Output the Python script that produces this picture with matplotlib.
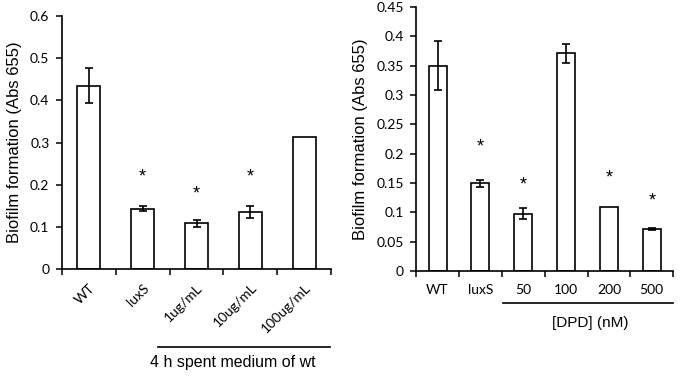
import matplotlib
matplotlib.use("Agg")
import matplotlib.pyplot as plt

# left panel: spent medium
left_cats = ["WT", "luxS", "1ug/mL", "10ug/mL", "100ug/mL"]
left_vals = [0.435, 0.143, 0.108, 0.135, 0.313]
left_err = [0.041, 0.006, 0.009, 0.015, 0.0]
left_star = [None, 0.218, 0.179, 0.218, None]

# right panel: DPD
right_cats = ["WT", "luxS", "50", "100", "200", "500"]
right_vals = [0.350, 0.150, 0.098, 0.371, 0.110, 0.072]
right_err = [0.042, 0.006, 0.009, 0.016, 0.0, 0.002]
right_star = [None, 0.211, 0.147, None, 0.159, 0.120]

tick_font = "Lato"
label_font = "Liberation Sans"

fig = plt.figure(figsize=(6.8, 3.77), dpi=100)
ax1 = fig.add_axes([0.091, 0.2865, 0.396, 0.671])
ax2 = fig.add_axes([0.612, 0.281, 0.378, 0.700])


def draw(ax, cats, vals, err, stars, ymax, ystep):
    n = len(cats)
    xs = list(range(n))
    ax.bar(xs, vals, width=0.42, color="white", edgecolor="black", linewidth=1.2, zorder=2)
    for x, v, e in zip(xs, vals, err):
        if e > 0:
            ax.errorbar(x, v, yerr=e, color="black", capsize=3, elinewidth=1.2,
                        capthick=1.2, zorder=3)
    for x, s in zip(xs, stars):
        if s is not None:
            ax.text(x, s, "*", ha="center", va="center", fontsize=13, family=label_font)
    ax.set_xlim(-0.5, n - 0.5)
    ax.set_ylim(0, ymax)
    ticks = [round(i * ystep, 3) for i in range(int(round(ymax / ystep)) + 1)]
    ax.set_yticks(ticks)
    ax.set_yticklabels([("%g" % t) for t in ticks], family=tick_font, fontsize=10)
    ax.set_xticks(xs)
    ax.set_xticks([i - 0.5 for i in range(n + 1)], minor=True)
    ax.tick_params(axis="x", which="major", length=0, pad=9)
    ax.tick_params(axis="x", which="minor", length=4, width=1.1, direction="out")
    ax.tick_params(axis="y", length=4, width=1.1, direction="out", pad=5)
    for side in ["top", "right"]:
        ax.spines[side].set_visible(False)
    for side in ["left", "bottom"]:
        ax.spines[side].set_linewidth(1.2)
    ax.set_ylabel("Biofilm formation (Abs 655)", family=label_font, fontsize=12, labelpad=6)


draw(ax1, left_cats, left_vals, left_err, left_star, 0.6, 0.1)
ax1.set_xticklabels(left_cats, rotation=45, ha="right", rotation_mode="anchor",
                    family=tick_font, fontsize=10)
ax1.plot([1.28, 4.48], [-0.308, -0.308], color="black", lw=1.2, clip_on=False,
         transform=ax1.get_xaxis_transform())
ax1.text(2.68, -0.368, "4 h spent medium of wt", ha="center", va="center",
         family=label_font, fontsize=11.5, transform=ax1.get_xaxis_transform())

draw(ax2, right_cats, right_vals, right_err, right_star, 0.45, 0.05)
ax2.set_xticklabels(right_cats, family=tick_font, fontsize=10)
ax2.plot([1.53, 5.5], [-0.121, -0.121], color="black", lw=1.2, clip_on=False,
         transform=ax2.get_xaxis_transform())
ax2.text(3.57, -0.197, "[DPD] (nM)", ha="center", va="center",
         family=label_font, fontsize=11, transform=ax2.get_xaxis_transform())

fig.savefig("out.png", dpi=100)
